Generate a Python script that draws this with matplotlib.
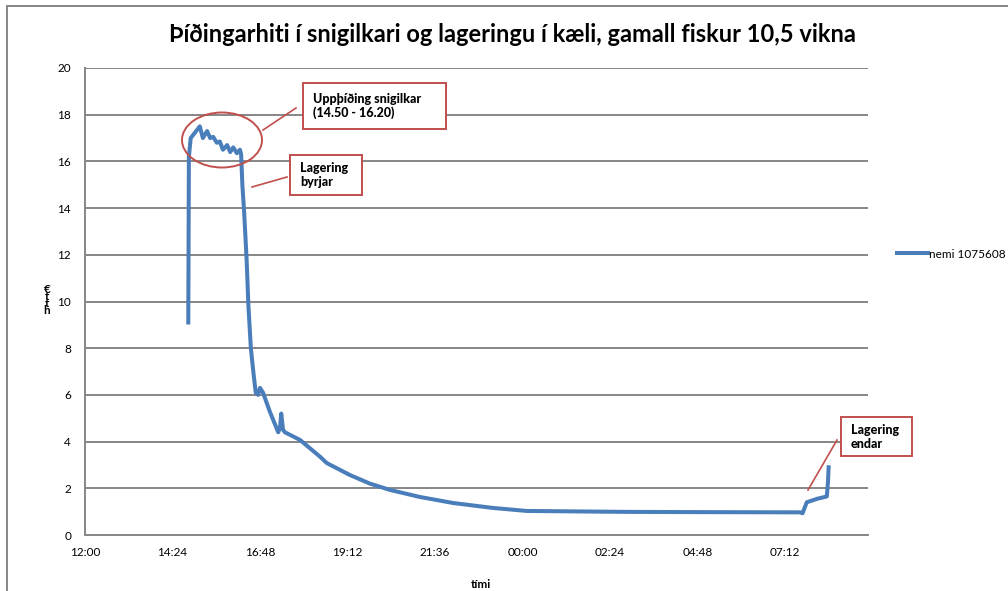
import matplotlib
matplotlib.use("Agg")
import matplotlib.pyplot as plt
from matplotlib.patches import Rectangle, Ellipse
from matplotlib.lines import Line2D
from matplotlib.ticker import FixedLocator, FuncFormatter

plt.rcParams['font.family'] = ['Lato', 'DejaVu Sans']

# ---- data ----
times = ["14:50", "14:51", "14:54", "15:09", "15:14", "15:21", "15:26", "15:31",
         "15:37", "15:42", "15:47", "15:54", "15:59", "16:04", "16:10", "16:15",
         "16:17", "16:19", "16:22", "16:26", "16:29", "16:33", "16:37", "16:41", "16:45",
         "16:48", "16:53", "17:04", "17:18", "17:21", "17:23", "17:26", "17:29",
         "17:54", "18:27", "18:38", "19:16", "19:49", "20:22", "21:11", "22:06",
         "23:11", "00:07", "02:52", "04:52", "07:37", "07:41", "07:48", "08:05",
         "08:21", "08:23", "08:24"]
temps = [9.1, 16.2, 17.0, 17.5, 17.0, 17.3, 17.0, 17.05,
         16.8, 16.85, 16.5, 16.7, 16.4, 16.6, 16.35, 16.5,
         16.3, 15.0, 13.8, 11.8, 9.8, 8.0, 7.0, 6.1, 6.0,
         6.3, 6.1, 5.3, 4.4, 4.6, 5.2, 4.5, 4.4,
         4.07, 3.35, 3.08, 2.57, 2.2, 1.93, 1.63, 1.37,
         1.16, 1.03, 0.99, 0.98, 0.97, 0.93, 1.4, 1.55,
         1.65, 2.3, 2.9]
series_name = "nemi 1075608"
title = "Þíðingarhiti í snigilkari og lageringu í kæli, gamall fiskur 10,5 vikna"
xlabel = "tími"
tick_days = [0.5, 0.6, 0.7, 0.8, 0.9, 1.0, 1.1, 1.2, 1.3]
yticks = [0, 2, 4, 6, 8, 10, 12, 14, 16, 18, 20]


def to_day(s):
    h, m = map(int, s.split(":"))
    d = (h + m / 60.0) / 24.0
    if h < 12:
        d += 1.0
    return d


xs = [to_day(t) for t in times]

W, H = 1008, 591
fig = plt.figure(figsize=(W / 100, H / 100), dpi=100)


def fx(px):
    return px / W


def fy(py):
    return 1 - py / H


ax = fig.add_axes([fx(85), fy(535), fx(868) - fx(85), fy(68) - fy(535)])

grid_c = "#868686"
blue = "#4A7EBB"
red = "#C0504D"

ax.plot(xs, temps, color=blue, lw=2.9, solid_joinstyle='round', label=series_name, zorder=3)

ax.set_xlim(0.5, 0.5 + 0.895)
ax.set_ylim(0, 20)
ax.xaxis.set_major_locator(FixedLocator(tick_days))


def fmt(v, pos):
    tot = int(round((v % 1.0) * 24 * 60))
    return "%02d:%02d" % (tot // 60, tot % 60)


ax.xaxis.set_major_formatter(FuncFormatter(fmt))
ax.set_yticks(yticks)
ax.yaxis.grid(True, color=grid_c, lw=1.4)
ax.set_axisbelow(True)
for s in ['top', 'right']:
    ax.spines[s].set_visible(False)
for s in ['left', 'bottom']:
    ax.spines[s].set_color(grid_c)
    ax.spines[s].set_linewidth(1.4)
ax.tick_params(axis='both', length=0, labelsize=8.5, colors='black')
ax.tick_params(axis='y', pad=10)
ax.tick_params(axis='x', pad=9)

# title and axis labels
fig.text(fx(512), fy(34), title, ha='center', va='center', fontsize=17, fontweight='bold')
fig.text(fx(481), fy(584), xlabel, ha='center', va='center', fontsize=8.5, fontweight='bold')
fig.text(fx(47), fy(300), "€\nt\nt\nh", ha='center', va='center', fontsize=8.5,
         fontweight='bold', linespacing=0.55)

# legend
leg = ax.legend(loc='center left', bbox_to_anchor=(fx(897), fy(254)),
                bbox_transform=fig.transFigure, frameon=False, fontsize=8.5,
                handlelength=2.6, handletextpad=0.1, borderaxespad=0, borderpad=0)

# outer chart border
fig.add_artist(Rectangle((fx(7), fy(600)), fx(1100), fy(6) - fy(600), transform=fig.transFigure,
                         fill=False, edgecolor=grid_c, lw=1.4, clip_on=False))

# annotations (pixel-placed callouts)
fig.add_artist(Ellipse((fx(222), fy(140)), fx(80), 55 / H, transform=fig.transFigure,
                       fill=False, edgecolor=red, lw=1.4))


def seg(x0, y0, x1, y1):
    fig.add_artist(Line2D([fx(x0), fx(x1)], [fy(y0), fy(y1)], transform=fig.transFigure,
                          color=red, lw=1.2))


def box(x0, y0, x1, y1, text):
    fig.add_artist(Rectangle((fx(x0), fy(y1)), fx(x1) - fx(x0), fy(y0) - fy(y1),
                             transform=fig.transFigure, facecolor='white', edgecolor=red, lw=1.4))
    fig.text(fx(x0 + 10), fy((y0 + y1) / 2), text, ha='left', va='center', fontsize=9,
             fontweight='black', linespacing=1.2)


seg(263, 130, 296, 108)
box(303, 83, 446, 129, "Uppþíðing snigilkar\n(14.50 - 16.20)")
seg(252, 187, 287, 177)
box(290, 155, 362, 195, "Lagering\nbyrjar")
seg(808, 490, 837, 440)
box(841, 417, 912, 456, "Lagering\nendar")

fig.savefig("out.png", dpi=100)
